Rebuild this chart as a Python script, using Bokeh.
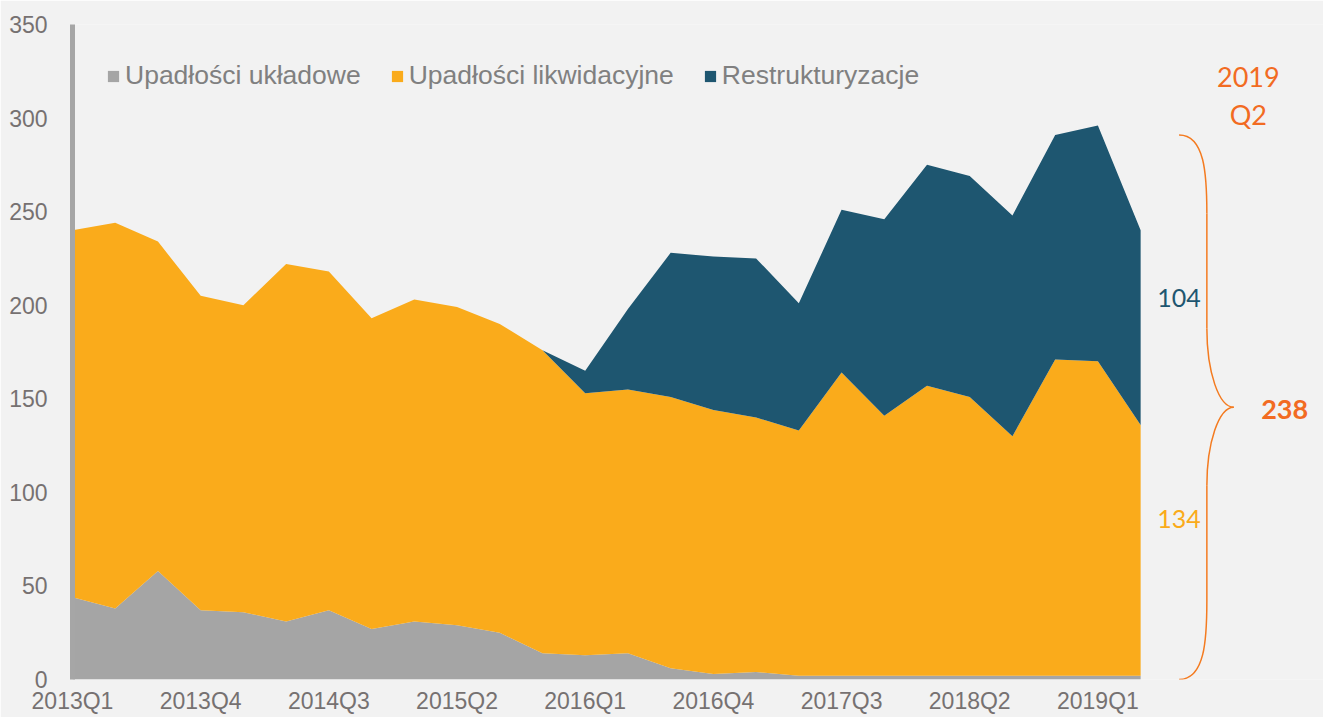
from bokeh.plotting import figure
from bokeh.models import (Range1d, FixedTicker, Legend, LegendItem, Label,
                          ColumnDataSource)
from bokeh.embed import file_html
from bokeh.resources import INLINE

# ---------------- data ----------------
quarters = ["2013Q1", "2013Q2", "2013Q3", "2013Q4", "2014Q1", "2014Q2", "2014Q3",
            "2014Q4", "2015Q1", "2015Q2", "2015Q3", "2015Q4", "2016Q1", "2016Q2",
            "2016Q3", "2016Q4", "2017Q1", "2017Q2", "2017Q3", "2017Q4", "2018Q1",
            "2018Q2", "2018Q3", "2018Q4", "2019Q1", "2019Q2"]
upadlosci_ukladowe = [44, 38, 58, 37, 36, 31, 37, 27, 31, 29, 25, 14, 13, 14, 6, 3, 4,
                      2, 2, 2, 2, 2, 2, 2, 2, 2]
upadlosci_likwidacyjne = [196, 206, 176, 168, 164, 191, 181, 166, 172, 170, 165, 162,
                          140, 141, 145, 141, 136, 131, 162, 139, 155, 149, 128, 169,
                          168, 134]
restrukturyzacje = [0, 0, 0, 0, 0, 0, 0, 0, 0, 0, 0, 0, 12, 43, 77, 82, 85, 68, 87,
                    105, 118, 118, 118, 120, 126, 104]
series_names = ["Upadłości układowe", "Upadłości likwidacyjne", "Restrukturyzacje"]
y_ticks = [0, 50, 100, 150, 200, 250, 300, 350]
x_tick_step = 3
last_liq = 134
last_restr = 104
last_total = 238
last_label = ["2019", "Q2"]

# ---------------- styles ----------------
BG = "#F2F2F2"
C_GRAY = "#A5A5A5"
C_ORANGE = "#FAAB1B"
C_TEAL = "#1E5670"
C_RED = "#F26B22"
C_TICK = "#767171"
C_LEG = "#808080"

n = len(quarters)
src = ColumnDataSource(dict(
    x=list(range(n)),
    uklad=upadlosci_ukladowe,
    likw=upadlosci_likwidacyjne,
    restr=restrukturyzacje,
))

p = figure(width=1323, height=717, x_range=Range1d(0, 29.28), y_range=Range1d(0, 350),
           output_backend="svg", toolbar_location=None,
           min_border_left=72, min_border_right=0, min_border_top=24,
           min_border_bottom=38, background_fill_color=BG, border_fill_color=BG,
           outline_line_color=None)

rs = p.varea_stack(stackers=["uklad", "likw", "restr"], x="x",
                   color=[C_GRAY, C_ORANGE, C_TEAL], source=src)

p.xgrid.visible = False
p.ygrid.visible = False

# x axis
xt = list(range(0, n, x_tick_step))
p.xaxis.ticker = FixedTicker(ticks=xt)
p.xaxis.major_label_overrides = {i: quarters[i] for i in xt}
p.xaxis.axis_line_color = None
p.xaxis.major_tick_line_color = None
p.xaxis.major_tick_out = 0
p.xaxis.minor_tick_line_color = None
p.xaxis.minor_tick_out = 0
p.xaxis.major_label_standoff = 8
p.xaxis.major_label_text_font = "Liberation Sans"
p.xaxis.major_label_text_font_size = "23px"
p.xaxis.major_label_text_color = C_TICK

# y axis
p.yaxis.ticker = FixedTicker(ticks=y_ticks)
p.yaxis.axis_line_color = "#A6A6A6"
p.yaxis.axis_line_width = 5
p.yaxis.major_tick_line_color = None
p.yaxis.major_tick_out = 0
p.yaxis.minor_tick_line_color = None
p.yaxis.minor_tick_out = 0
p.yaxis.major_label_standoff = 25
p.yaxis.major_label_text_font = "Liberation Sans"
p.yaxis.major_label_text_font_size = "23px"
p.yaxis.major_label_text_color = C_TICK

legend = Legend(items=[LegendItem(label=series_names[i], renderers=[rs[i]]) for i in range(3)],
                orientation="horizontal", location=(34, 588), glyph_width=14,
                glyph_height=14, label_standoff=5, spacing=29, padding=0, margin=0,
                background_fill_alpha=0, border_line_color=None,
                label_text_font="Liberation Sans", label_text_font_size="26.5px",
                label_text_color=C_LEG)
p.add_layout(legend)

# ---------------- right-hand annotation ----------------
x_last = n - 1
bx_end, bx_stem, bx_tip = x_last + 0.9, x_last + 1.55, x_last + 2.18
by_bot, by_top = 0, 291
by_mid = (by_bot + by_top) / 2
curl = 42
bez = dict(
    x0=[bx_end, bx_stem, bx_tip, bx_stem],
    y0=[by_top, by_mid + curl, by_mid, by_bot + curl],
    x1=[bx_stem, bx_tip, bx_stem, bx_end],
    y1=[by_top - curl, by_mid, by_mid - curl, by_bot],
    cx0=[bx_stem - 0.05, bx_stem, bx_tip - 0.35, bx_stem],
    cy0=[by_top, by_mid + curl * 0.45, by_mid, by_bot + curl * 0.5],
    cx1=[bx_stem, bx_tip - 0.35, bx_stem, bx_stem - 0.05],
    cy1=[by_top - curl * 0.5, by_mid, by_mid - curl * 0.45, by_bot],
)
p.bezier(source=ColumnDataSource(bez), x0="x0", y0="y0", x1="x1", y1="y1",
         cx0="cx0", cy0="cy0", cx1="cx1", cy1="cy1", line_color="#F47B20",
         line_width=1.5)
p.segment(x0=[bx_stem, bx_stem], y0=[by_top - curl, by_mid - curl],
          x1=[bx_stem, bx_stem], y1=[by_mid + curl, by_bot + curl],
          line_color="#F47B20", line_width=1.5)

common = dict(text_align="center", text_baseline="middle", text_font="Lato")
p.add_layout(Label(x=bx_end, y=204, text=str(last_restr), text_font_size="25px",
                   text_color=C_TEAL, **common))
p.add_layout(Label(x=bx_end, y=86, text=str(last_liq), text_font_size="25px",
                   text_color=C_ORANGE, **common))
p.add_layout(Label(x=x_last + 3.37, y=144.5, text=str(last_total), text_font_size="27px",
                   text_font_style="bold", text_color=C_RED, **common))
p.add_layout(Label(x=x_last + 2.52, y=322, text=last_label[0], text_font_size="27px",
                   text_color=C_RED, **common))
p.add_layout(Label(x=x_last + 2.52, y=302, text=last_label[1], text_font_size="27px",
                   text_color=C_RED, **common))

open("out.html", "w").write(file_html(p, INLINE))
